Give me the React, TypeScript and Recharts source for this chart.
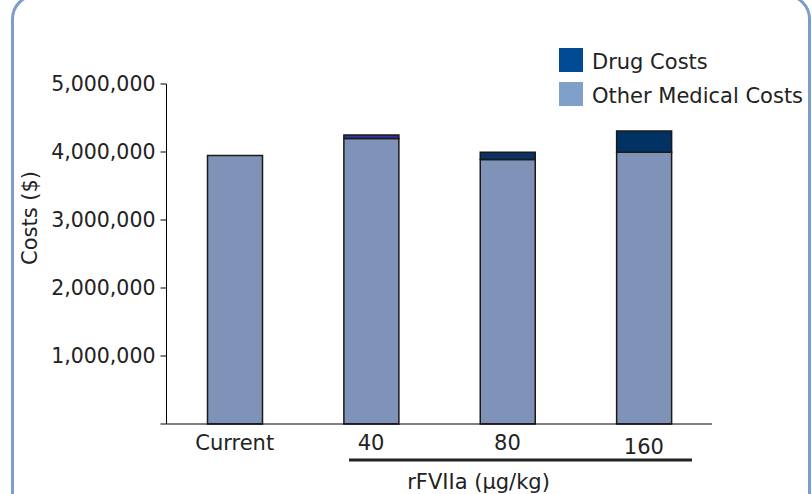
import React from 'react';
import { BarChart, Bar, XAxis, YAxis, Legend, Cell } from 'recharts';

const categories = ['Current', '40', '80', '160'];
const otherMedicalCosts = [3950000, 4200000, 3890000, 3995000];
const drugCosts = [0, 50000, 105000, 315000];
const yTicks = [0, 1000000, 2000000, 3000000, 4000000, 5000000];
const edgeTicks = [0, 1, 2, 3, 4];
const drugName = 'Drug Costs';
const otherName = 'Other Medical Costs';
const xAxisTitle = 'rFVIIa (μg/kg)';
const yAxisTitle = 'Costs ($)';

const data = categories.map((c, i) => ({
  category: c,
  other: otherMedicalCosts[i],
  drug: drugCosts[i],
}));

const FONT = '"DejaVu Sans", Verdana, sans-serif';
const TEXT = '#222';
const drugBarColors = ['#003366', '#33339a', '#0b3262', '#003264'];
const otherBarColor = '#7f93b8';
const legendItems = [
  { name: drugName, color: '#004a94' },
  { name: otherName, color: '#7fa0c8' },
];

const YTick = (props: any) => {
  const { x, y, payload } = props;
  if (payload.value === 0) return null;
  return (
    <text x={x} y={y} dy={7} textAnchor="end" fill={TEXT} fontSize={20.5} fontFamily={FONT}>
      {Number(payload.value).toLocaleString('en-US')}
    </text>
  );
};

const XTick = (props: any) => {
  const { x, y, payload } = props;
  const extra = payload.value === '160' ? 4 : 0;
  return (
    <text x={x} y={y} dy={26 + extra} textAnchor="middle" fill={TEXT} fontSize={21} fontFamily={FONT}>
      {payload.value}
    </text>
  );
};

const XTitle = (props: any) => {
  const { viewBox } = props;
  const { x, y, width } = viewBox;
  return (
    <g>
      <line
        x1={x + width * 0.3346}
        x2={x + width * 0.9633}
        y1={y + 36}
        y2={y + 36}
        stroke="#222"
        strokeWidth={3}
      />
      <text x={x + width * 0.572} y={y + 65} textAnchor="middle" fill={TEXT} fontSize={21} fontFamily={FONT}>
        {xAxisTitle}
      </text>
    </g>
  );
};

const YTitle = (props: any) => {
  const { viewBox } = props;
  const { y, height } = viewBox;
  const cx = 37.5;
  const cy = y + height * 0.394;
  return (
    <text
      x={cx}
      y={cy}
      transform={`rotate(-90 ${cx} ${cy})`}
      textAnchor="middle"
      fill={TEXT}
      fontSize={21}
      fontFamily={FONT}
    >
      {yAxisTitle}
    </text>
  );
};

const LegendContent = () => (
  <div style={{ fontFamily: FONT, fontSize: 21, color: TEXT }}>
    {legendItems.map((it, i) => (
      <div
        key={it.name}
        style={{ display: 'flex', alignItems: 'center', height: 24, marginBottom: i === 0 ? 10 : 0 }}
      >
        <div style={{ width: 24, height: 24, background: it.color, marginRight: 9, flex: 'none' }} />
        <span style={{ whiteSpace: 'nowrap', position: 'relative', top: 2, lineHeight: '24px' }}>{it.name}</span>
      </div>
    ))}
  </div>
);

export default function App() {
  return (
    <div
      style={{
        position: 'fixed',
        left: 0,
        top: 0,
        width: 812,
        height: 494,
        overflow: 'hidden',
        background: '#fff',
      }}
    >
      <div
        style={{
          position: 'absolute',
          left: 11,
          top: -6,
          width: 800,
          height: 560,
          border: '3px solid #7b9dcb',
          borderRadius: 25,
          boxSizing: 'border-box',
        }}
      />
      <div style={{ position: 'absolute', left: 0, top: 0 }}>
        <BarChart
          width={812}
          height={494}
          data={data}
          margin={{ top: 84, right: 100, bottom: 10, left: 0 }}
          barSize={55}
        >
          <XAxis
            xAxisId="edges"
            type="number"
            domain={[0, 4]}
            allowDataOverflow
            ticks={edgeTicks}
            tickFormatter={() => ''}
            height={0}
            tickSize={6}
            stroke="#000"
            axisLine={{ stroke: '#000' }}
            tickLine={{ stroke: '#000' }}
          />
          <XAxis
            dataKey="category"
            height={60}
            tickLine={false}
            tickSize={0}
            tickMargin={0}
            axisLine={{ stroke: '#000' }}
            tick={<XTick />}
            interval={0}
            label={<XTitle />}
          />
          <YAxis
            width={166.5}
            domain={[0, 5000000]}
            ticks={yTicks}
            tickSize={6}
            tickMargin={5}
            axisLine={{ stroke: '#000' }}
            tickLine={{ stroke: '#000' }}
            tick={<YTick />}
            interval={0}
            label={<YTitle />}
          />
          <Legend
            layout="vertical"
            align="center"
            verticalAlign="middle"
            wrapperStyle={{ left: 559, top: 48, width: 253 }}
            content={<LegendContent />}
          />
          <Bar
            dataKey="other"
            name={otherName}
            stackId="a"
            fill={otherBarColor}
            stroke="#1a1a1a"
            strokeWidth={1.5}
            isAnimationActive={false}
          />
          <Bar
            dataKey="drug"
            name={drugName}
            stackId="a"
            stroke="#1a1a1a"
            strokeWidth={1.5}
            isAnimationActive={false}
          >
            {data.map((d, i) => (
              <Cell key={d.category} fill={drugBarColors[i]} />
            ))}
          </Bar>
        </BarChart>
      </div>
    </div>
  );
}
